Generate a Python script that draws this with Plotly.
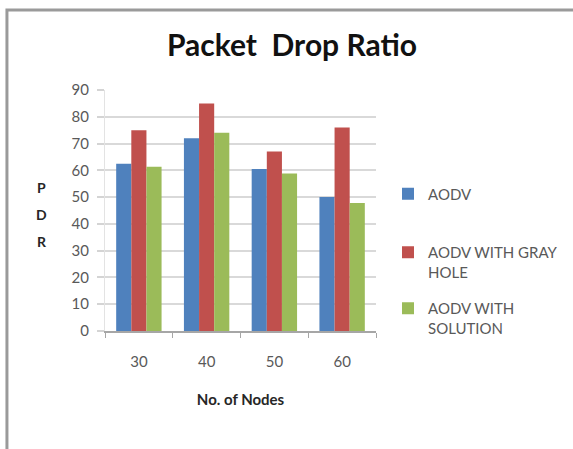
import plotly.graph_objects as go

categories = ["30", "40", "50", "60"]
aodv = [62.5, 72, 60.5, 50]
aodv_gray_hole = [75, 85, 67, 76]
aodv_solution = [61.3, 74, 58.8, 47.8]
series_names = ["AODV", "AODV WITH GRAY<br>HOLE", "AODV WITH<br>SOLUTION"]
series_values = [aodv, aodv_gray_hole, aodv_solution]
colors = ["#4F81BD", "#C0504D", "#9BBB59"]
y_ticks = [0, 10, 20, 30, 40, 50, 60, 70, 80, 90]
y_letters = ["P", "D", "R"]

W, H = 573, 449
L, R, T, B = 105, 193, 90, 118

fig = go.Figure()
legend_names = ["legend", "legend2", "legend3"]
for name, vals, col, lg in zip(series_names, series_values, colors, legend_names):
    fig.add_trace(go.Bar(x=categories, y=vals, name=name, marker_color=col,
                         marker_line_width=0, legend=lg))

font_family = "Lato, 'Open Sans', sans-serif"
legend_style = dict(xref="container", yref="container", xanchor="left", yanchor="middle",
                    font=dict(family=font_family, size=15, color="#595959"),
                    bgcolor="rgba(0,0,0,0)", valign="top", itemclick=False)
legend_pos = [(388, 194), (388, 262), (388, 318)]

layout_legends = {}
for lg, (px, py) in zip(legend_names, legend_pos):
    layout_legends[lg] = dict(x=px / W, y=1 - py / H, **legend_style)

fig.update_layout(
    width=W, height=H,
    margin=dict(l=L, r=R, t=T, b=B),
    paper_bgcolor="white", plot_bgcolor="white",
    barmode="group", bargap=0.33, bargroupgap=0,
    font=dict(family=font_family, color="#595959"),
    title=dict(text="<b>Packet\u00a0 Drop Ratio</b>", xref="container", yref="container",
               x=292 / W, y=1 - 45 / H, xanchor="center", yanchor="middle",
               font=dict(family=font_family, size=30, color="#111111")),
    showlegend=True,
    **layout_legends,
)

fig.update_xaxes(
    type="category", tickson="boundaries", ticks="outside", ticklen=5, tickcolor="#a6a6a6",
    showline=True, linecolor="#a6a6a6", linewidth=1.5, showgrid=False,
    tickfont=dict(size=15, color="#595959"), ticklabelstandoff=16,
    title=dict(text="<b>No. of Nodes</b>", standoff=26,
               font=dict(size=15, color="#262626")),
)
fig.update_yaxes(
    range=[0, 90], tickvals=y_ticks, ticks="outside", ticklen=7, tickcolor="#d4d4d4", tickwidth=2,
    showgrid=True, gridcolor="#d9d9d9", gridwidth=2,
    showline=True, linecolor="#e3e3e3", linewidth=1, zeroline=False,
    tickfont=dict(size=15, color="#595959"), ticklabelstandoff=5,
)

for i, letter in enumerate(y_letters):
    fig.add_annotation(text=f"<b>{letter}</b>", xref="paper", yref="paper",
                       x=(41 - L) / (W - L - R), y=(H - B - (187 + 27 * i)) / (H - T - B),
                       showarrow=False, xanchor="center", yanchor="middle",
                       font=dict(family=font_family, size=14, color="#262626"))

# chart frame
pw, ph = W - L - R, H - T - B
fig.add_shape(type="rect", xref="paper", yref="paper",
              x0=(5.5 - L) / pw, x1=(W + 20 - L) / pw,
              y0=(H - B - (H + 20)) / ph, y1=(H - B - 10) / ph,
              line=dict(color="#9a9a9a", width=3), fillcolor="rgba(0,0,0,0)", layer="below")

fig.write_html("out.html", config={"displayModeBar": False},
               post_script="document.body.style.margin='0';")
